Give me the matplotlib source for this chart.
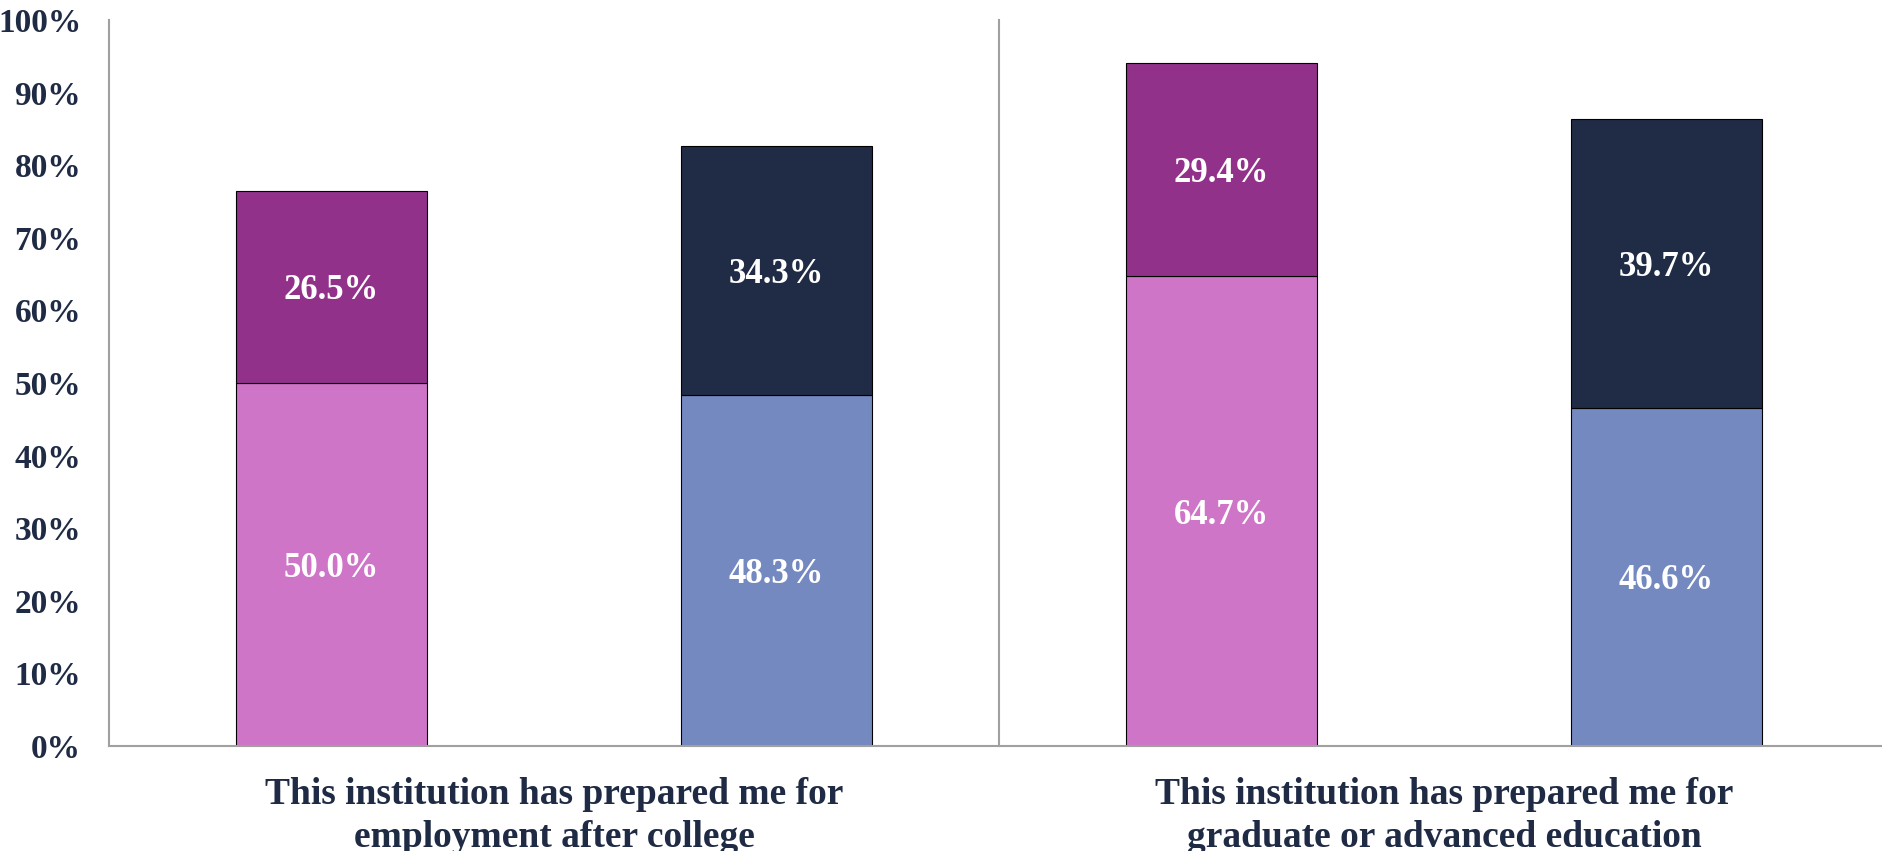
import numpy as np
import matplotlib
matplotlib.use("Agg")
import matplotlib.pyplot as plt

# data
groups = ["This institution has prepared me for\nemployment after college",
          "This institution has prepared me for\ngraduate or advanced education"]
lower = [50.0, 48.3, 64.7, 46.6]
upper = [26.5, 34.3, 29.4, 39.7]
lower_colors = ["#CF75C8", "#7589C1", "#CF75C8", "#7589C1"]
upper_colors = ["#92318A", "#202B45", "#92318A", "#202B45"]

navy = "#1F2A44"
plt.rcParams["font.family"] = ["Liberation Serif", "DejaVu Serif"]
plt.rcParams["font.weight"] = "bold"

W, H = 1883, 851
fig = plt.figure(figsize=(W / 100, H / 100), dpi=100)
left, right, top, bottom = 109, 1889, 20, 746
ax = fig.add_axes([left / W, 1 - bottom / H, (right - left) / W, (bottom - top) / H])

x = np.arange(len(lower))
ax.bar(x, lower, width=0.43, color=lower_colors, edgecolor="black", linewidth=0.8)
ax.bar(x, upper, width=0.43, bottom=lower, color=upper_colors, edgecolor="black", linewidth=0.8)

for i in range(len(x)):
    ax.text(x[i], lower[i] / 2, f"{lower[i]:.1f}%", ha="center", va="center_baseline",
            color="white", fontsize=25, fontweight="bold")
    ax.text(x[i], lower[i] + upper[i] / 2, f"{upper[i]:.1f}%", ha="center",
            va="center_baseline", color="white", fontsize=25, fontweight="bold")

# separator between the two groups
ax.plot([1.5, 1.5], [0, 100], color="#A0A0A0", linewidth=1.5, clip_on=False)

ax.set_xlim(-0.5, 3.5)
ax.set_ylim(0, 100)
ax.set_yticks(np.arange(0, 101, 10))
ax.set_yticklabels([f"{v}%" for v in range(0, 101, 10)], fontsize=24,
                   fontweight="bold", color=navy)
ax.set_xticks([0.5, 2.5])
ax.set_xticklabels(groups, fontsize=27, fontweight="bold", color=navy, linespacing=1.3)
ax.tick_params(axis="both", length=0)
ax.tick_params(axis="y", pad=20)
ax.tick_params(axis="x", pad=22)

for s in ["top", "right"]:
    ax.spines[s].set_visible(False)
for s in ["left", "bottom"]:
    ax.spines[s].set_color("#A0A0A0")
    ax.spines[s].set_linewidth(1.5)

fig.savefig("out.png", dpi=100)
